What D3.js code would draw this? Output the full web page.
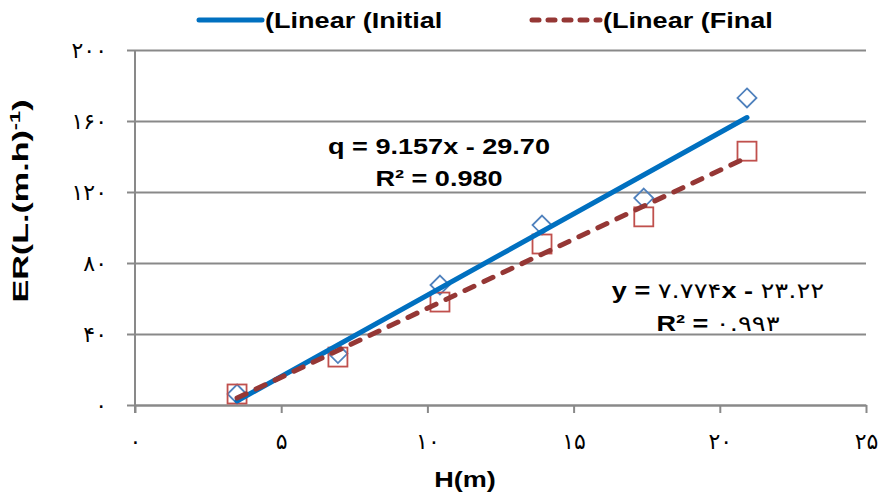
<!DOCTYPE html>
<html>
<head>
<meta charset="utf-8">
<script src="https://cdn.jsdelivr.net/npm/d3@7"></script>
<style>
  body { margin: 0; background: #fff; }
  svg { display: block; }
</style>
</head>
<body>
<div class="canvas"></div>
<script>
// data
const heights = [3.49, 6.94, 10.43, 13.92, 17.4, 20.93];
const initialRates = [6.2, 29, 67.6, 101.4, 116.6, 173];
const finalRates = [6.2, 27, 58, 90.7, 106, 143];
const initialFit = [9.157, -29.70];
const finalFit = [7.774, -23.22];
const xTicks = [0, 5, 10, 15, 20, 25];
const yTicks = [0, 40, 80, 120, 160, 200];
const legendLabels = ["(Linear (Initial", "(Linear (Final"];
const initialEq = ["q = 9.157x - 29.70", "R² = 0.980"];
const finalEq = ["y = ۷.۷۷۴x - ۲۳.۲۲", "R² = ۰.۹۹۳"];

const w = 879;
const h = 497;
const margin = { top: 50, right: 13, bottom: 92, left: 135 };
const font = "'Liberation Sans', Arial, 'DejaVu Sans', sans-serif";
const faFont = "'DejaVu Sans', sans-serif";
const stretch = 1.23;
const grey = "#898989";

const toFa = n => String(n).replace(/\d/g, d => "۰۱۲۳۴۵۶۷۸۹"[d]);

const svg = d3.select(".canvas")
  .append("svg")
  .attr("width", w)
  .attr("height", h);

svg.append("rect").attr("width", w).attr("height", h).attr("fill", "#fff");

const x = d3.scaleLinear().domain([0, 25]).range([margin.left, w - margin.right]);
const y = d3.scaleLinear().domain([0, 200]).range([h - margin.bottom, margin.top]);

// y gridlines + tick labels
const yAxisGroup = svg.append("g")
  .attr("transform", `translate(${margin.left - 8}, 0)`)
  .call(d3.axisLeft(y)
    .tickValues(yTicks)
    .tickSize(-(w - margin.right - margin.left + 8))
    .tickPadding(20)
    .tickFormat(toFa));
yAxisGroup.select(".domain").remove();
yAxisGroup.selectAll(".tick line").attr("stroke", grey).attr("stroke-width", 2);
yAxisGroup.selectAll(".tick text")
  .attr("font-family", faFont)
  .attr("font-size", 22)
  .attr("letter-spacing", 3)
  .attr("fill", "#000");

// x axis
const xAxisGroup = svg.append("g")
  .attr("transform", `translate(0, ${y(0)})`)
  .call(d3.axisBottom(x)
    .tickValues(xTicks)
    .tickSize(8)
    .tickSizeOuter(0)
    .tickPadding(20)
    .tickFormat(toFa));
xAxisGroup.select(".domain").attr("stroke", grey).attr("stroke-width", 2);
xAxisGroup.selectAll(".tick line").attr("stroke", grey).attr("stroke-width", 2);
xAxisGroup.selectAll(".tick text")
  .attr("font-family", faFont)
  .attr("font-size", 22)
  .attr("letter-spacing", 3)
  .attr("fill", "#000");

// y axis line
svg.append("line")
  .attr("x1", x(0)).attr("x2", x(0))
  .attr("y1", y(200)).attr("y2", y(0) + 8)
  .attr("stroke", grey).attr("stroke-width", 2);

// markers
const pts = heights.map((hv, i) => ({ h: hv, a: initialRates[i], b: finalRates[i] }));

svg.append("g").selectAll("path")
  .data(pts)
  .enter()
  .append("path")
  .attr("d", d3.symbol().type(d3.symbolDiamond2).size(230))
  .attr("transform", d => `translate(${x(d.h)}, ${y(d.a)})`)
  .attr("fill", "none")
  .attr("stroke", "#4F81BD")
  .attr("stroke-width", 1.8);

svg.append("g").selectAll("rect")
  .data(pts)
  .enter()
  .append("rect")
  .attr("x", d => x(d.h) - 9.5)
  .attr("y", d => y(d.b) - 9.5)
  .attr("width", 19)
  .attr("height", 19)
  .attr("fill", "none")
  .attr("stroke", "#C0504D")
  .attr("stroke-width", 1.8);

// trend lines
const xs = d3.extent(heights);
const line = d3.line().x(d => x(d[0])).y(d => y(d[1]));
const fitPts = f => xs.map(v => [v, f[0] * v + f[1]]);

svg.append("path")
  .attr("d", line(fitPts(initialFit)))
  .attr("stroke", "#0070C0")
  .attr("stroke-width", 5)
  .attr("stroke-linecap", "round")
  .attr("fill", "none");

svg.append("path")
  .attr("d", line(fitPts(finalFit)))
  .attr("stroke", "#953735")
  .attr("stroke-width", 5)
  .attr("stroke-linecap", "round")
  .attr("stroke-dasharray", "10,11")
  .attr("fill", "none");

// text helper, bold and slightly wide like the source;
// Persian digit runs are set in a regular weight
function label(tx, ty, str, anchor) {
  const t = svg.append("text")
    .attr("transform", `translate(${tx}, ${ty}) scale(${stretch}, 1)`)
    .attr("text-anchor", anchor)
    .attr("font-family", font)
    .attr("font-weight", "bold")
    .attr("font-size", 22)
    .attr("fill", "#000");
  str.split(/([۰-۹][۰-۹.]*)/).filter(s => s.length).forEach(part => {
    const ts = t.append("tspan").text(part);
    if (/[۰-۹]/.test(part)) {
      ts.attr("font-family", faFont)
        .attr("font-weight", "normal")
        .attr("font-size", 21)
        .attr("letter-spacing", 1.5);
    }
  });
  return t;
}

// legend
svg.append("line")
  .attr("x1", 199).attr("x2", 262).attr("y1", 20).attr("y2", 20)
  .attr("stroke", "#0070C0").attr("stroke-width", 5).attr("stroke-linecap", "round");
label(265, 28, legendLabels[0], "start");
svg.append("line")
  .attr("x1", 532).attr("x2", 600).attr("y1", 20).attr("y2", 20)
  .attr("stroke", "#953735").attr("stroke-width", 5).attr("stroke-linecap", "round")
  .attr("stroke-dasharray", "7,9");
label(603, 28, legendLabels[1], "start");

// equations
label(439, 154, initialEq[0], "middle");
label(439, 186, initialEq[1], "middle");
label(718, 298, finalEq[0], "middle");
label(718, 331, finalEq[1], "middle");

// axis titles
label(465, 487, "H(m)", "middle");

const yTitle = svg.append("text")
  .attr("transform", `translate(28, 201) rotate(-90) scale(1.55, 1)`)
  .attr("text-anchor", "middle")
  .attr("font-family", font)
  .attr("font-weight", "bold")
  .attr("font-size", 22)
  .attr("fill", "#000");
yTitle.append("tspan").text("ER(L.(m.h)");
yTitle.append("tspan").attr("dy", -8).attr("font-size", 14).text("-1");
yTitle.append("tspan").attr("dy", 8).text(")");
</script>
</body>
</html>
